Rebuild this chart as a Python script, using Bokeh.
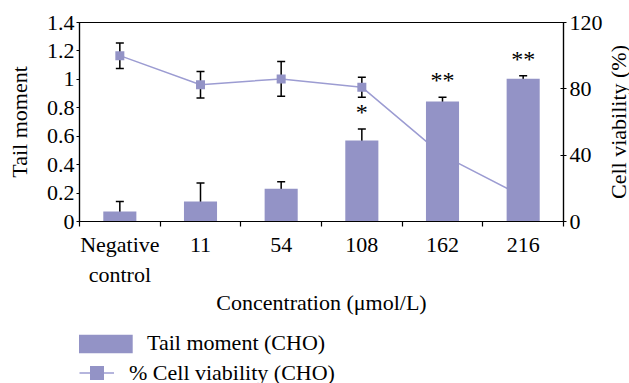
import math
from bokeh.plotting import figure
from bokeh.layouts import column, row
from bokeh.models import (ColumnDataSource, Range1d, LinearAxis, FixedTicker,
                          Whisker, TeeHead, Legend, LegendItem)
from bokeh.core.properties import value
from bokeh.embed import file_html
from bokeh.resources import INLINE

# ---- data ----
categories = ["Negative\ncontrol", "11", "54", "108", "162", "216"]
tail_moment = [0.07, 0.14, 0.23, 0.57, 0.845, 1.005]
tail_err = [0.07, 0.13, 0.05, 0.08, 0.03, 0.02]
viability = [100, 82.5, 86, 81, 40, 15]
viability_err = [7.7, 8, 10.5, 6, 0.3, 0.3]
significance = ["", "", "", "*", "**", "**"]
left_ticks = [0, 0.2, 0.4, 0.6, 0.8, 1.0, 1.2, 1.4]
left_tick_labels = ["0", "0.2", "0.4", "0.6", "0.8", "1", "1.2", "1.4"]
right_ticks = [0, 40, 80, 120]
series_names = ["Tail moment (CHO)", "% Cell viability (CHO)"]
right_title = "Cell viability (%)"

FONT = "Liberation Serif"
FS = "22px"
BAR = "#9393C6"
LINE = "#9C9CD2"

n = len(categories)
xpos = [i + 0.5 for i in range(n)]
src = ColumnDataSource(dict(
    x=xpos, tail=tail_moment,
    tu=[t + e for t, e in zip(tail_moment, tail_err)],
    tl=[t - e for t, e in zip(tail_moment, tail_err)],
    viab=viability,
    vu=[v + e for v, e in zip(viability, viability_err)],
    vl=[v - e for v, e in zip(viability, viability_err)],
    sig=significance,
))

W_MAIN, W_SIDE = 606, 23
H_MAIN, H_LEG = 318, 65
FRAME_TOP, FRAME_BOTTOM = 22, 221

p = figure(width=W_MAIN, height=H_MAIN, output_backend="svg", toolbar_location=None,
           x_range=Range1d(0, n), y_range=Range1d(0, 1.4),
           min_border_left=79, min_border_right=W_MAIN - 563, min_border_top=FRAME_TOP,
           min_border_bottom=H_MAIN - FRAME_BOTTOM)
p.extra_y_ranges = {"viab": Range1d(0, 120)}
p.xgrid.visible = False
p.ygrid.visible = False
p.outline_line_color = "black"
p.outline_line_width = 1.2
p.background_fill_color = "white"
p.border_fill_color = "white"

# viability line beneath the bars
p.line("x", "viab", source=src, y_range_name="viab", line_color=LINE, line_width=1.5)
p.scatter("x", "viab", source=src, y_range_name="viab", marker="square",
          size=9, fill_color=BAR, line_color=None)
p.vbar(x="x", top="tail", width=0.41, source=src, fill_color=BAR, line_color=None)

for up, lo, rn in (("tu", "tl", "default"), ("vu", "vl", "viab")):
    w = Whisker(base="x", upper=up, lower=lo, source=src, y_range_name=rn,
                line_color="black", line_width=1.5,
                upper_head=TeeHead(size=8, line_color="black", line_width=1.5),
                lower_head=TeeHead(size=8, line_color="black", line_width=1.5))
    p.add_layout(w)

p.text("x", "tu", text="sig", source=src, text_font=value(FONT), text_font_size="24px",
       text_align="center", text_baseline="alphabetic", y_offset=-17, text_color="black")

# axes
xa = p.xaxis[0]
xa.ticker = FixedTicker(ticks=xpos, minor_ticks=list(range(n + 1)))
xa.major_label_overrides = {x: c for x, c in zip(xpos, categories)}
xa.major_tick_out = 0
xa.major_tick_in = 0
xa.minor_tick_out = 5
xa.minor_tick_in = 0
xa.major_label_standoff = 5
xa.axis_label = "Concentration (μmol/L)"
xa.axis_label_standoff = 0

ya = p.yaxis[0]
ya.ticker = FixedTicker(ticks=left_ticks, minor_ticks=[])
ya.major_label_overrides = {t: l for t, l in zip(left_ticks, left_tick_labels)}
ya.major_tick_out = 3
ya.major_tick_in = 0
ya.minor_tick_out = 0
ya.major_label_standoff = 2
ya.axis_label = "Tail moment"
ya.axis_label_standoff = 12

ra = LinearAxis(y_range_name="viab", ticker=FixedTicker(ticks=right_ticks, minor_ticks=[]))
ra.major_tick_out = 3
ra.major_tick_in = 3
ra.minor_tick_out = 0
ra.major_label_standoff = 3
p.add_layout(ra, "right")

for ax in (xa, ya, ra):
    ax.axis_line_color = "black"
    ax.axis_line_width = 1.2
    ax.major_tick_line_color = "black"
    ax.minor_tick_line_color = "black"
    ax.major_tick_line_width = 1.2
    ax.minor_tick_line_width = 1.2
    ax.major_label_text_font = FONT
    ax.major_label_text_font_size = FS
    ax.major_label_text_color = "black"
    ax.axis_label_text_font = FONT
    ax.axis_label_text_font_size = FS
    ax.axis_label_text_font_style = "normal"
    ax.axis_label_text_color = "black"

# ---- narrow strip on the right holding the right axis title (bottom-to-top) ----
r = figure(width=W_SIDE, height=H_MAIN + H_LEG, output_backend="svg", toolbar_location=None,
           x_range=Range1d(0, 1), y_range=Range1d(0, 1),
           x_axis_location=None, y_axis_location=None, min_border=0,
           min_border_left=0, min_border_right=0, min_border_top=FRAME_TOP,
           min_border_bottom=H_MAIN + H_LEG - FRAME_BOTTOM)
r.xgrid.visible = False
r.ygrid.visible = False
r.outline_line_color = None
r.border_fill_color = "white"
r.background_fill_color = "white"
r.text(x=[0.5], y=[0.5], text=[right_title], angle=math.pi / 2,
       text_align="center", text_baseline="middle", text_font=value(FONT),
       text_font_size=FS, text_color="black")

# ---- legend strip below the chart ----
q = figure(width=W_MAIN, height=H_LEG, output_backend="svg", toolbar_location=None,
           x_range=Range1d(0, 1), y_range=Range1d(0, 1),
           x_axis_location=None, y_axis_location=None, min_border=0,
           min_border_left=0, min_border_right=0, min_border_top=0, min_border_bottom=0)
q.xgrid.visible = False
q.ygrid.visible = False
q.outline_line_color = None
q.border_fill_color = "white"
q.background_fill_color = "white"
# legend swatches reuse the chart's data but are not drawn themselves
sw_bar = q.vbar(x="x", top="tail", width=0.41, source=src, fill_color=BAR, line_color=None,
                visible=False)
sw_line = q.line("x", "viab", source=src, line_color=LINE, line_width=1.5, visible=False)
sw_mark = q.scatter("x", "viab", source=src, marker="square", fill_color=BAR,
                    line_color=None, visible=False)

leg1 = Legend(items=[LegendItem(label=series_names[0], renderers=[sw_bar])],
              location=(-8, 27), glyph_width=68, glyph_height=23, label_standoff=8)
leg2 = Legend(items=[LegendItem(label=series_names[1], renderers=[sw_line, sw_mark])],
              location=(0, -7), glyph_width=35, glyph_height=35, label_standoff=15)
for lg in (leg1, leg2):
    lg.padding = 0
    lg.margin = 0
    lg.border_line_color = None
    lg.background_fill_alpha = 0
    lg.label_text_font = FONT
    lg.label_text_font_size = FS
    lg.label_text_color = "black"
    q.add_layout(lg)

layout = row(column(p, q, spacing=0), r, spacing=0)
open("out.html", "w").write(file_html(layout, INLINE))
